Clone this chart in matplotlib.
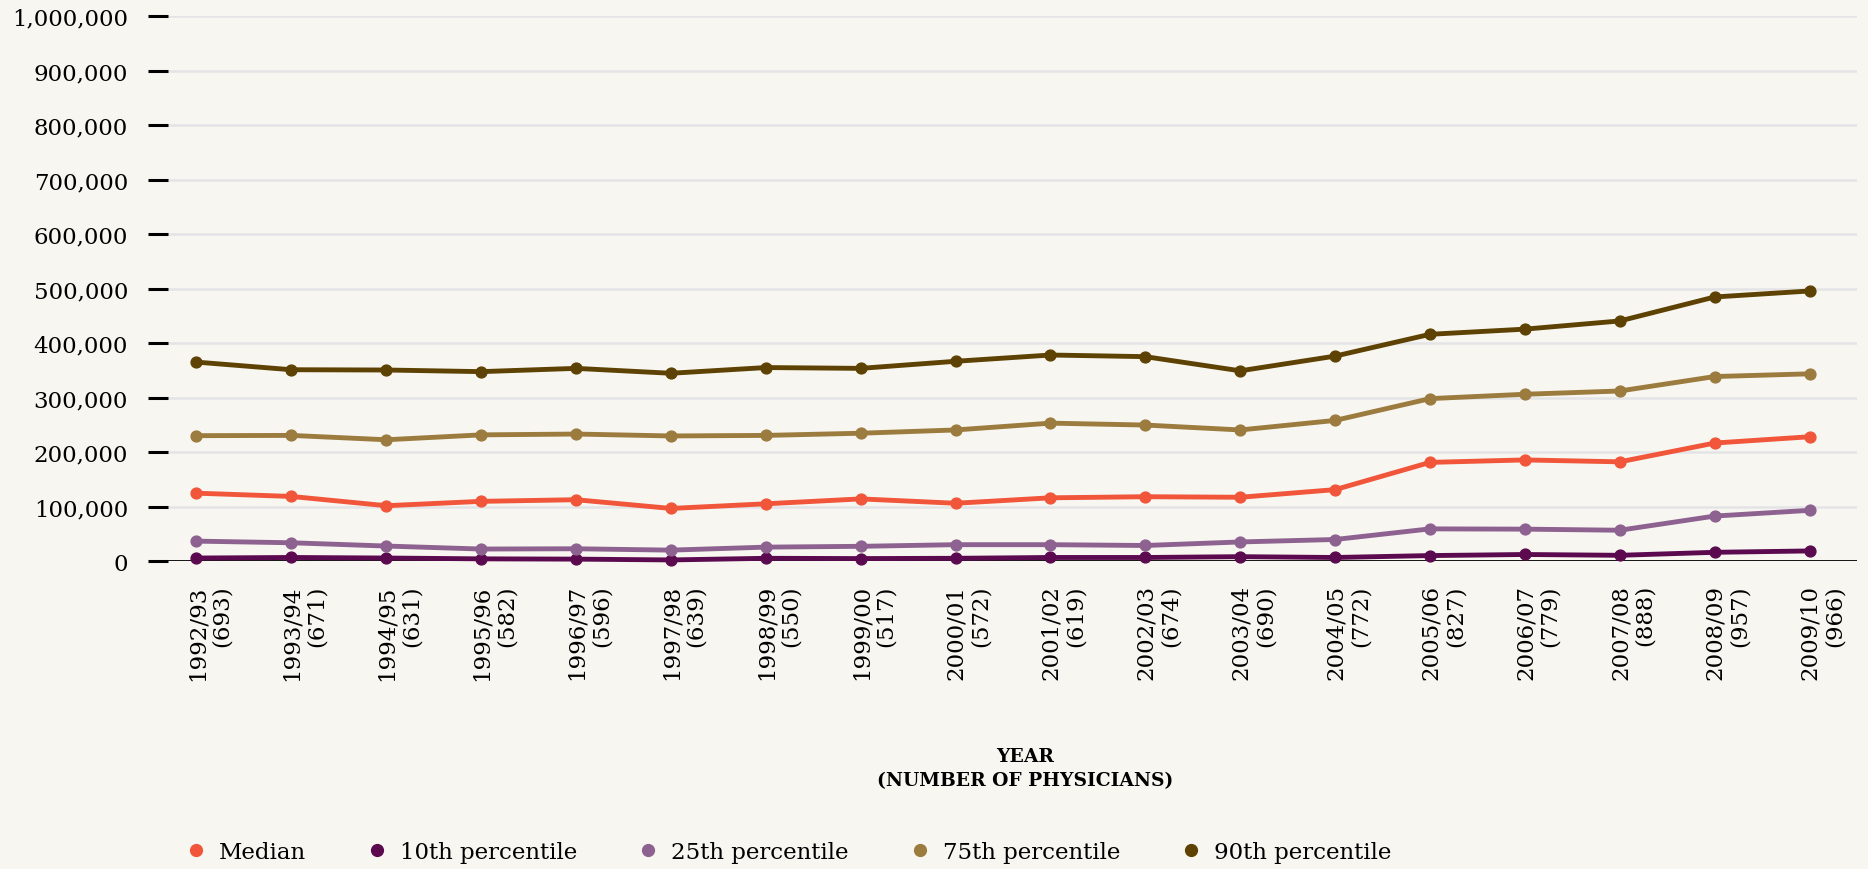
import matplotlib
matplotlib.use("Agg")
import matplotlib.pyplot as plt
import matplotlib.transforms as mtransforms
from matplotlib.lines import Line2D
from matplotlib.ticker import FuncFormatter

# academic years and number of physicians surveyed each year
years = ['1992/93', '1993/94', '1994/95', '1995/96', '1996/97', '1997/98',
         '1998/99', '1999/00', '2000/01', '2001/02', '2002/03', '2003/04',
         '2004/05', '2005/06', '2006/07', '2007/08', '2008/09', '2009/10']
physicians = [693, 671, 631, 582, 596, 639, 550, 517, 572, 619, 674, 690,
              772, 827, 779, 888, 957, 966]

# income by percentile
median = [125000, 119000, 102000, 110000, 113000, 97000, 105500, 114500, 106500,
          116500, 118500, 117500, 131500, 181500, 186000, 182500, 217000, 228500]
p10 = [6000, 7000, 6000, 4500, 4000, 2500, 5500, 5000, 5500,
       7000, 7000, 8500, 7000, 10500, 12500, 11000, 16500, 19000]
p25 = [37000, 34000, 28000, 22500, 23000, 20500, 26000, 27500, 30500,
       30500, 29000, 35500, 40000, 59500, 59000, 57000, 83000, 93500]
p75 = [230500, 231000, 223000, 232000, 233500, 230000, 231000, 235000, 241000,
       253500, 250000, 241000, 258500, 298500, 306500, 312500, 339000, 344000]
p90 = [365500, 351500, 351000, 348000, 354000, 345000, 355500, 354000, 367000,
       378500, 375500, 349500, 376500, 416500, 426000, 441000, 485000, 496000]

series = [('Median', median, '#f1553a'),
          ('10th percentile', p10, '#5b0a4f'),
          ('25th percentile', p25, '#8e6290'),
          ('75th percentile', p75, '#9c7b3f'),
          ('90th percentile', p90, '#5e4203')]

bg = '#f7f6f0'
plt.rcParams['font.family'] = ['DejaVu Serif']

fig = plt.figure(figsize=(18.68, 8.70), dpi=100, facecolor=bg)
ax = fig.add_axes([168 / 1868, 1 - 562.3 / 870, (1857 - 168) / 1868, (562.3 - 17.3) / 870])
ax.set_facecolor(bg)

x = list(range(len(years)))
for name, vals, col in series:
    ax.plot(x, vals, color=col, lw=3.5, marker='o', markersize=7.8,
            solid_capstyle='round', zorder=3, clip_on=False)

ax.set_ylim(0, 1000000)
ax.set_xlim(-0.30, 17.5)
ax.set_yticks(range(0, 1000001, 100000))
ax.yaxis.set_major_formatter(FuncFormatter(lambda v, p: '{:,.0f}'.format(v)))
ax.yaxis.grid(True, color='#e4e4e6', lw=1.8, zorder=1)
ax.axhline(0, color='black', lw=2.0, zorder=2)
for s in ax.spines.values():
    s.set_visible(False)

ax.tick_params(axis='y', length=14.4, width=2.2, pad=14.4, labelsize=16.5, colors='black')
ax.tick_params(axis='x', length=0, pad=16.5, labelsize=16.5)

ax.set_xticks(x)
ax.set_xticklabels(['{}\n({})'.format(y, n) for y, n in zip(years, physicians)],
                   rotation=90, multialignment='right', linespacing=1.15)
shift = mtransforms.ScaledTranslation(0.13, 0, fig.dpi_scale_trans)
for lab in ax.get_xticklabels():
    lab.set_transform(lab.get_transform() + shift)

fig.text(1025 / 1868, 1 - 769 / 870, 'YEAR\n(NUMBER OF PHYSICIANS)', ha='center', va='center',
         fontsize=13.5, fontweight='bold', linespacing=1.4)

handles = [Line2D([], [], ls='none', marker='o', markersize=8.5, color=col)
           for name, vals, col in series]
fig.legend(handles, [s[0] for s in series], loc='center left',
           bbox_to_anchor=(189 / 1868, 1 - 853 / 870), ncol=5, frameon=False,
           fontsize=16.5, handlelength=0.6, handletextpad=0.7, columnspacing=2.8,
           borderpad=0, borderaxespad=0)

fig.savefig('out.png', dpi=100, facecolor=bg)
